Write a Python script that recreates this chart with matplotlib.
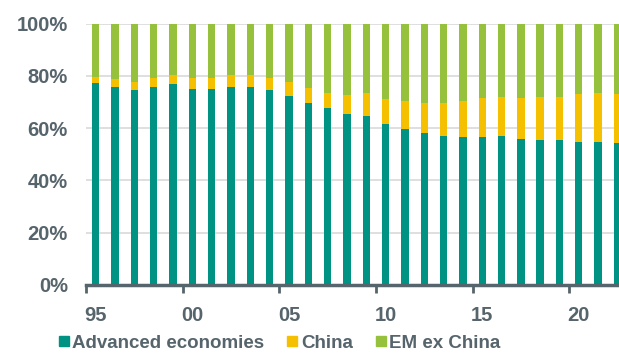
import matplotlib.pyplot as plt
import numpy as np
from matplotlib.lines import Line2D

plt.rcParams['font.family'] = ['Liberation Sans', 'DejaVu Sans']
plt.rcParams['font.weight'] = 'bold'

# share of total, %, 1995-2022
years = list(range(1995, 2023))
advanced = [77.4, 75.8, 74.7, 75.8, 76.9, 75.1, 75.1, 75.8, 75.8, 74.7,
            72.4, 69.6, 67.6, 65.4, 64.7, 61.6, 59.8, 58.2, 57.1, 56.6,
            56.6, 57.0, 56.0, 55.5, 55.5, 54.8, 54.8, 54.3]
china = [2.2, 2.9, 2.9, 3.3, 3.3, 4.0, 4.0, 4.4, 4.4, 4.4,
         5.2, 5.7, 6.0, 7.2, 8.9, 9.4, 10.6, 11.6, 12.7, 13.8,
         14.8, 14.9, 15.4, 16.4, 16.4, 18.3, 18.8, 18.8]
em_ex_china = [100 - a - c for a, c in zip(advanced, china)]

teal = '#009282'
yellow = '#f5c000'
green = '#95c13d'
txt = '#56646c'

x = np.arange(len(years))
w = 0.38

fig = plt.figure(figsize=(6.19, 3.53), dpi=100)
ax = fig.add_axes([0.139, 0.193, 0.861, 0.74])

ax.bar(x, advanced, w, color=teal, zorder=2)
ax.bar(x, china, w, bottom=advanced, color=yellow, zorder=2)
ax.bar(x, em_ex_china, w, bottom=np.add(advanced, china), color=green, zorder=2)

ax.set_ylim(0, 100)
ax.set_xlim(-0.5, 27.08)
ax.set_yticks(range(0, 101, 20))
ax.set_yticklabels([f'{v}%' for v in range(0, 101, 20)])
ax.yaxis.grid(True, color='#d9d9d9', linewidth=1.2, zorder=0)
ax.tick_params(axis='y', length=0, pad=13, labelsize=14.5, labelcolor=txt)

# major ticks at category edges, labels at bar centres
ax.set_xticks(np.arange(-0.5, len(years), 5))
ax.set_xticklabels([])
ax.set_xticks(x[::5], minor=True)
ax.set_xticklabels([f'{y % 100:02d}' for y in years[::5]], minor=True)
ax.tick_params(axis='x', which='major', length=6, width=2, color=txt, direction='out')
ax.tick_params(axis='x', which='minor', length=0, pad=15, labelsize=14.5, labelcolor=txt)

for s in ['top', 'right', 'left']:
    ax.spines[s].set_visible(False)
ax.spines['bottom'].set_color(txt)
ax.spines['bottom'].set_linewidth(2.5)
ax.spines['bottom'].set_zorder(3)

handles = [Line2D([], [], marker='s', linestyle='none', markersize=7, color=c)
           for c in (teal, yellow, green)]
fig.legend(handles, ['Advanced economies', 'China', 'EM ex China'],
           loc='center left', bbox_to_anchor=(0.094, 0.028), ncol=3, frameon=False,
           borderpad=0, borderaxespad=0,
           handletextpad=0.15, columnspacing=1.2, handlelength=0.6,
           prop={'size': 13.5, 'weight': 'bold'}, labelcolor=txt)

fig.savefig('out.png', dpi=100)
